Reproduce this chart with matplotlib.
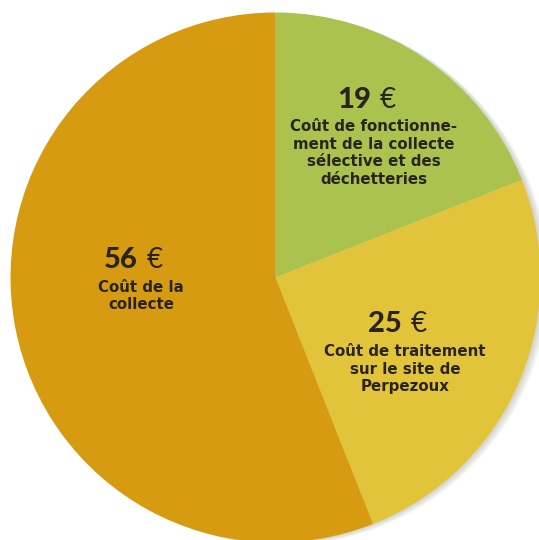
import matplotlib.pyplot as plt
from matplotlib.patches import Circle

# data
values = [19, 25, 56]
amounts = ["19", "25", "56"]
labels = [
    "Coût de fonctionne-\nment de la collecte\nsélective et des\ndéchetteries",
    "Coût de traitement\nsur le site de\nPerpezoux",
    "Coût de la\ncollecte",
]
colors = ["#abc24e", "#e2c43b", "#d79b12"]

W, H = 539, 540
cx, cy, r = 275.5, H - 277.5, 265

fig = plt.figure(figsize=(W / 100, H / 100), dpi=100)
ax = fig.add_axes([0, 0, 1, 1])
ax.set_xlim(0, W)
ax.set_ylim(0, H)
ax.set_aspect("equal")
ax.axis("off")

# faint shadow on the right side only
for i in range(10):
    ax.add_patch(Circle((cx + 1 + i * 0.8, cy - i * 0.3), r,
                        color="#707048", alpha=0.03, lw=0, zorder=0))

ax.pie(values, colors=colors, startangle=90, counterclock=False,
       center=(cx, cy), radius=r, frame=True,
       wedgeprops=dict(linewidth=0))
ax.set_xlim(0, W)
ax.set_ylim(0, H)
ax.axis("off")

# label positions (pixel coords from top)
num_pos = [(374, 100), (405, 324), (141, 260)]
txt_pos = [(374, 153), (405, 369), (141, 296)]

num_font = ["Lato", "DejaVu Sans"]
txt_font = ["DejaVu Sans"]
for amt, lab, (nx, ny), (tx, ty) in zip(amounts, labels, num_pos, txt_pos):
    ax.text(nx - 3, H - ny, amt, ha="right", va="center", fontsize=21,
            fontweight="black", color="#29241f", family=num_font)
    ax.text(nx + 6, H - ny, "€", ha="left", va="center", fontsize=20,
            color="#29241f", family=num_font)
    ax.text(tx, H - ty, lab, ha="center", va="center", fontsize=10.8,
            fontweight="bold", color="#29241f", family=txt_font,
            linespacing=1.2)

fig.savefig("out.png", dpi=100, facecolor="white")
